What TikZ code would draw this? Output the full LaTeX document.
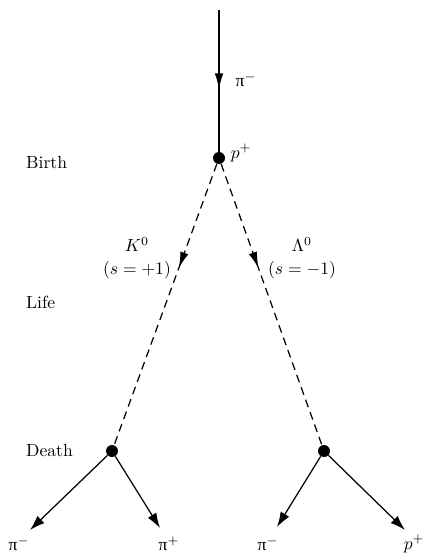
\documentclass[tikz,border=0pt]{standalone}
\usepackage{fontspec}
\newfontfamily\grk{Liberation Serif}
\usetikzlibrary{arrows.meta,decorations.markings}
\newcommand{\upi}{\mbox{\grk π}}
\tikzset{
  vertex/.style={circle,fill,inner sep=0pt,minimum size=0.24cm},
  midarrow/.style={postaction={decorate},
    decoration={markings,mark=at position #1 with {\arrow{Latex[length=3.2mm,width=1.7mm]}}}},
  track/.style={line width=0.7pt},
  neutral/.style={track,dash pattern=on 4.5pt off 3pt},
  decay/.style={track,-{Latex[length=3mm,width=2mm]}},
}
\begin{document}
\begin{tikzpicture}[x=0.02cm,y=-0.02cm]
\useasboundingbox (0,0) rectangle (424,554);
% vertices
\node[vertex] (birth) at (219,158) {};
\node[vertex] (kdeath) at (112,451) {};
\node[vertex] (ldeath) at (324,451) {};
\coordinate (beam) at (219,10);
% incoming pion
\draw[track,midarrow=0.56] (beam) -- (birth);
\node (pim) at (246,80) {$\upi^-$};
\node (pp) at (241,153) {$p^+$};
% neutral strange particles
\draw[neutral,midarrow=0.37] (birth) -- (kdeath);
\draw[neutral,midarrow=0.37] (birth) -- (ldeath);
\node[align=center] (kaon) at (137,258) {$K^0$\\[1pt]$(s = +1)$};
\node[align=center] (lambda) at (302,258) {$\Lambda^0$\\[1pt]$(s = -1)$};
% decays
\foreach \v/\x/\y/\lbl/\lx in {kdeath/30/530/{\upi^-}/19, kdeath/160/528/{\upi^+}/169,
                               ldeath/277/527/{\upi^-}/268, ldeath/405/530/{p^+}/414} {
    \coordinate (tip) at (\x,\y);
    \draw[decay] (\v) -- (tip);
    \node at (\lx,544) {$\lbl$};
}
% stages
\foreach \t/\y in {Birth/162, Life/302, Death/450}
    \node[anchor=west] (\t) at (20,\y) {\t};
\end{tikzpicture}
\end{document}
